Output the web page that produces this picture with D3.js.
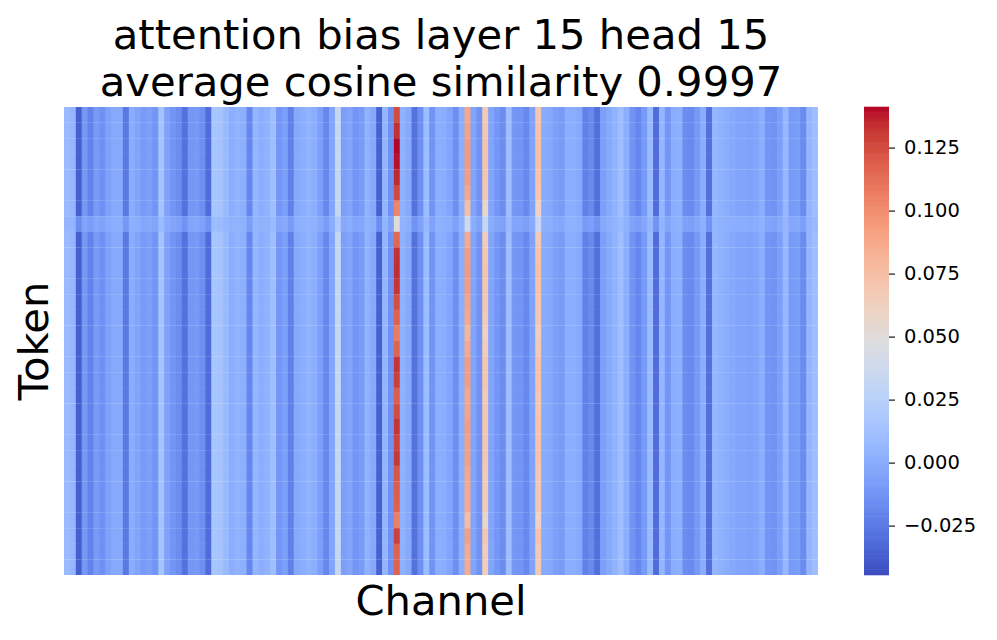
<!DOCTYPE html>
<html>
<head>
<meta charset="utf-8">
<script src="https://cdn.jsdelivr.net/npm/d3@7"></script>
<style>
  html, body { margin: 0; padding: 0; background: #ffffff; }
  svg { display: block; font-family: "DejaVu Sans", sans-serif; }
</style>
</head>
<body>
<svg id="chart" width="997" height="640"></svg>
<script>
// ---------------- data ----------------
const titleLines = ["attention bias layer 15 head 15", "average cosine similarity 0.9997"];
const xLabel = "Channel";
const yLabel = "Token";
const nTokens = 30;
const nChannels = 128;

// typical token row: bias value per channel
const channelBias = [
  0.008, 0.006, -0.037, -0.011, -0.021, -0.009, -0.014, -0.006, -0.002, -0.002,
  -0.026, 0.000, -0.004, -0.009, -0.007, -0.012, 0.014, -0.006, -0.012, -0.016,
  -0.029, -0.011, -0.010, -0.015, -0.031, 0.016, 0.014, 0.008, 0.001, 0.004,
  0.002, -0.019, 0.006, 0.001, 0.004, 0.011, -0.012, -0.007, -0.022, -0.002,
  0.001, 0.004, 0.001, -0.007, -0.019, -0.004, 0.034, -0.007, -0.004, -0.012,
  -0.009, 0.004, -0.002, -0.036, 0.006, -0.014, 0.130, 0.003, -0.002, -0.029,
  -0.015, 0.010, -0.013, 0.001, 0.000, -0.004, -0.015, 0.001, 0.093, -0.004,
  -0.013, 0.070, -0.004, -0.011, -0.016, 0.011, -0.011, -0.012, -0.018, -0.005,
  0.072, -0.001, -0.002, -0.007, -0.009, 0.001, 0.001, -0.002, -0.022, -0.018,
  -0.030, -0.007, -0.002, 0.004, 0.011, 0.001, -0.013, -0.019, -0.009, 0.008,
  -0.031, 0.006, -0.012, 0.000, 0.002, -0.016, -0.018, -0.010, 0.000, -0.030,
  0.006, 0.003, 0.000, -0.002, -0.004, -0.004, -0.006, -0.004, 0.001, -0.012,
  -0.013, -0.007, 0.007, -0.009, -0.008, -0.017, 0.006, 0.011
];

// the outlier token (row 7) is washed out toward the mean
const outlierToken = 7;
const outlierBias = [
  0.006, 0.005, -0.016, -0.004, -0.008, -0.003, -0.005, -0.001, 0.001, 0.001,
  -0.011, 0.002, 0.000, -0.003, -0.002, -0.004, 0.009, -0.001, -0.004, -0.006,
  -0.013, -0.004, -0.003, -0.006, -0.013, 0.010, 0.009, 0.006, 0.003, 0.004,
  0.003, -0.008, 0.005, 0.003, 0.004, 0.008, -0.004, -0.002, -0.009, 0.001,
  0.003, 0.004, 0.003, -0.002, -0.008, 0.000, 0.020, -0.002, 0.000, -0.004,
  -0.003, 0.004, 0.001, -0.016, 0.005, -0.005, 0.050, 0.004, 0.001, -0.013,
  -0.006, 0.007, -0.005, 0.003, 0.002, 0.000, -0.006, 0.003, 0.038, 0.000,
  -0.005, 0.032, 0.000, -0.004, -0.006, 0.008, -0.004, -0.004, -0.007, -0.001,
  0.034, 0.002, 0.001, -0.002, -0.003, 0.003, 0.003, 0.001, -0.009, -0.007,
  -0.013, -0.002, 0.001, 0.004, 0.008, 0.003, -0.005, -0.008, -0.003, 0.006,
  -0.013, 0.005, -0.004, 0.002, 0.003, -0.006, -0.007, -0.003, 0.002, -0.013,
  0.005, 0.004, 0.002, 0.001, 0.000, 0.000, -0.001, 0.000, 0.003, -0.004,
  -0.005, -0.002, 0.006, -0.003, -0.002, -0.007, 0.005, 0.008
];

// channels whose value changes noticeably from token to token
const warmChannels = [56, 68, 71, 80];
const warmByToken = {
  56: [0.125, 0.133, 0.141, 0.139, 0.135, 0.126, 0.104, 0.050, 0.115, 0.133,
       0.134, 0.132, 0.124, 0.118, 0.108, 0.116, 0.132, 0.129, 0.119, 0.125,
       0.132, 0.128, 0.131, 0.122, 0.119, 0.118, 0.106, 0.129, 0.117, 0.117],
  68: [0.088, 0.091, 0.094, 0.094, 0.093, 0.089, 0.075, 0.038, 0.086, 0.093,
       0.094, 0.093, 0.090, 0.088, 0.080, 0.087, 0.093, 0.093, 0.089, 0.090,
       0.093, 0.092, 0.092, 0.089, 0.087, 0.087, 0.076, 0.092, 0.086, 0.086],
  71: [0.068, 0.070, 0.072, 0.072, 0.071, 0.069, 0.058, 0.032, 0.066, 0.071,
       0.072, 0.071, 0.069, 0.067, 0.062, 0.066, 0.071, 0.071, 0.068, 0.069,
       0.071, 0.070, 0.070, 0.068, 0.067, 0.067, 0.058, 0.070, 0.066, 0.066],
  80: [0.070, 0.072, 0.074, 0.074, 0.073, 0.071, 0.060, 0.034, 0.068, 0.073,
       0.074, 0.073, 0.071, 0.069, 0.064, 0.068, 0.073, 0.073, 0.070, 0.071,
       0.073, 0.072, 0.072, 0.070, 0.069, 0.069, 0.060, 0.072, 0.068, 0.068]
};

const colorMin = -0.0446;
const colorMax = 0.1411;
const colorbarTicks = [-0.025, 0.000, 0.025, 0.050, 0.075, 0.100, 0.125];

// matplotlib "coolwarm" control colours
const coolwarmStops = [
  [59,76,192],[68,90,204],[77,104,215],[87,117,225],[98,130,234],[108,142,241],
  [119,154,247],[130,165,251],[141,176,254],[152,185,255],[163,194,255],[174,201,253],
  [184,208,249],[194,213,244],[204,217,238],[213,219,230],[221,221,221],[229,216,209],
  [236,211,197],[241,204,185],[245,196,173],[247,187,160],[247,177,148],[247,166,135],
  [244,154,123],[241,141,111],[236,127,99],[229,112,88],[222,96,77],[213,80,66],
  [203,62,56],[192,40,47],[180,4,38]
];

// ---------------- build cells ----------------
const cells = [];
for (let t = 0; t < nTokens; t++) {
  const rowSrc = t === outlierToken ? outlierBias : channelBias;
  for (let c = 0; c < nChannels; c++) {
    let v = rowSrc[c];
    if (warmChannels.includes(c)) v = warmByToken[c][t];
    cells.push({ t, c, v });
  }
}

// ---------------- layout ----------------
const svg = d3.select("#chart");
const plot = { left: 64, right: 818, top: 107, bottom: 575 };
const cbar = { left: 864, right: 889, top: 107, bottom: 575 };

const x = d3.scaleBand().domain(d3.range(nChannels)).range([plot.left, plot.right]).padding(0);
const y = d3.scaleBand().domain(d3.range(nTokens)).range([plot.top, plot.bottom]).padding(0);

const stopDomain = coolwarmStops.map((_, i) => colorMin + (colorMax - colorMin) * i / (coolwarmStops.length - 1));
const color = d3.scaleLinear()
  .domain(stopDomain)
  .range(coolwarmStops.map(s => d3.rgb(s[0], s[1], s[2]).toString()))
  .interpolate(d3.interpolateRgb)
  .clamp(true);

// draw so that neighbouring cells overlap slightly (no vertical seams, faint row seams)
svg.append("g").selectAll("rect")
  .data(cells)
  .join("rect")
  .attr("x", d => x(d.c))
  .attr("y", d => y(d.t))
  .attr("width", d => d.c === nChannels - 1 ? x.bandwidth() : x.bandwidth() + 0.7)
  .attr("height", d => d.t === nTokens - 1 ? y.bandwidth() : y.bandwidth() + 0.15)
  .attr("fill", d => color(d.v));

// ---------------- titles ----------------
const fontBig = 41.7;
svg.append("text")
  .attr("x", (plot.left + plot.right) / 2).attr("y", 49)
  .attr("text-anchor", "middle").attr("font-size", fontBig).attr("fill", "#000")
  .text(titleLines[0]);
svg.append("text")
  .attr("x", (plot.left + plot.right) / 2).attr("y", 96)
  .attr("text-anchor", "middle").attr("font-size", fontBig).attr("fill", "#000")
  .text(titleLines[1]);

svg.append("text")
  .attr("x", (plot.left + plot.right) / 2).attr("y", 615)
  .attr("text-anchor", "middle").attr("font-size", fontBig).attr("fill", "#000")
  .text(xLabel);

svg.append("text")
  .attr("transform", `translate(48,${(plot.top + plot.bottom) / 2}) rotate(-90)`)
  .attr("text-anchor", "middle").attr("font-size", fontBig).attr("fill", "#000")
  .text(yLabel);

// ---------------- colorbar ----------------
const cScale = d3.scaleLinear().domain([colorMin, colorMax]).range([cbar.bottom, cbar.top]);
const nSteps = 256;
const stepVals = d3.range(nSteps).map(i => colorMin + (colorMax - colorMin) * (i + 0.5) / nSteps);
const stepH = (cbar.bottom - cbar.top) / nSteps;
svg.append("g").selectAll("rect")
  .data(stepVals)
  .join("rect")
  .attr("x", cbar.left)
  .attr("width", cbar.right - cbar.left)
  .attr("y", d => cScale(d) - stepH / 2 - 0.3)
  .attr("height", stepH + 0.6)
  .attr("fill", d => color(d));

const cAxis = d3.axisRight(cScale)
  .tickValues(colorbarTicks)
  .tickFormat(d3.format(".3f"))
  .tickSize(6)
  .tickPadding(9);
const cg = svg.append("g")
  .attr("transform", `translate(${cbar.right},0)`)
  .call(cAxis);
cg.select(".domain").remove();
cg.selectAll(".tick line").attr("stroke", "#000").attr("stroke-width", 1.1);
cg.selectAll(".tick text")
  .attr("font-size", 19.5)
  .attr("font-family", "DejaVu Sans, sans-serif")
  .attr("fill", "#000");
</script>
</body>
</html>
